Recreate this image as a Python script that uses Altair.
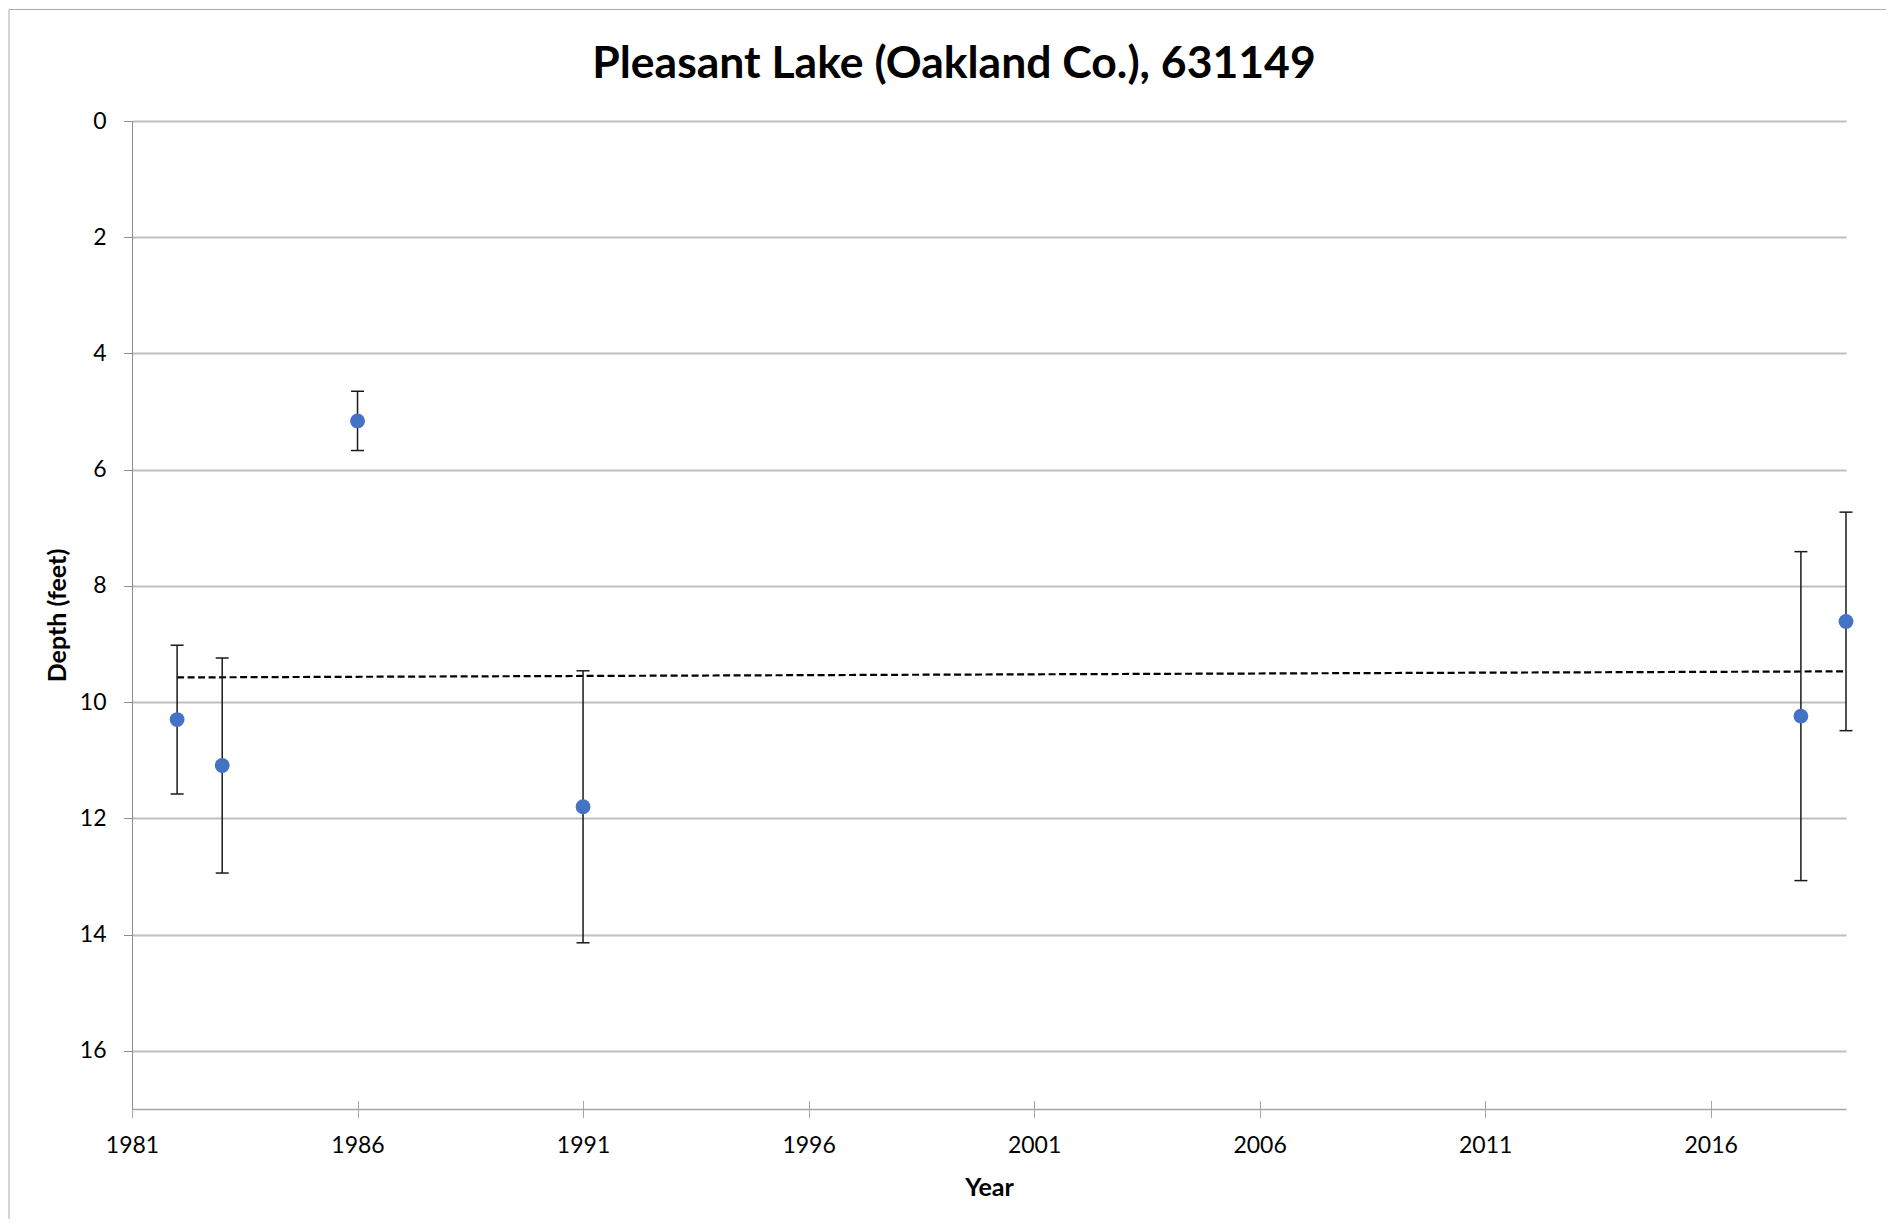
import altair as alt
import pandas as pd

# ---- data ----
years = [1982, 1983, 1986, 1991, 2018, 2019]
depth = [10.30, 11.09, 5.16, 11.80, 10.24, 8.61]
err = [1.28, 1.85, 0.51, 2.34, 2.83, 1.88]
x_ticks = [1981, 1986, 1991, 1996, 2001, 2006, 2011, 2016]
y_ticks = [0, 2, 4, 6, 8, 10, 12, 14, 16]
title_text = "Pleasant Lake (Oakland Co.), 631149"

df = pd.DataFrame({"year": years, "depth": depth, "err": err})
df["lo"] = df["depth"] - df["err"]
df["hi"] = df["depth"] + df["err"]

W, H = 1714, 988
FONT = "Lato"
AX = "#A6A6A6"

xscale = alt.Scale(domain=[1981, 2019], nice=False, zero=False)
yscale = alt.Scale(domain=[0, 17], nice=False, zero=False, reverse=True)

main_x_axis = alt.Axis(
    orient="bottom",
    values=x_ticks, format="d", domainColor=AX, domainWidth=1.5,
    tickColor=AX, tickSize=8.5, tickWidth=1,
    labelFont=FONT, labelFontSize=23, labelColor="black", labelPadding=17,
    labelFlush=False, labelOverlap=False,
    title="Year", titleFont=FONT, titleFontSize=25, titleFontWeight="bold",
    titleColor="black", titlePadding=18, grid=False,
)
cross_axis = alt.Axis(
    orient="bottom",
    values=x_ticks, offset=-8.5, domain=False, tickColor=AX, tickSize=8.5,
    tickWidth=1, labels=False, title="", grid=False,
)
y_axis = alt.Axis(
    orient="left",
    values=y_ticks, domainColor="#8C8C8C", domainWidth=1,
    tickColor="#8C8C8C", tickSize=8.5, tickWidth=1,
    labelFont=FONT, labelFontSize=23, labelColor="black", labelPadding=17.5,
    grid=True, gridColor="#C0C0C0", gridWidth=2,
    title="Depth (feet)", titleFont=FONT, titleFontSize=25,
    titleFontWeight="bold", titleColor="black", titlePadding=9,
)

base = alt.Chart(df)

border = alt.Chart(alt.Data(values=[{"k": 1}])).mark_rect(
    filled=False, stroke="#ABABAB", strokeWidth=1
).encode(
    x=alt.value(-123), x2=alt.value(W + 300),
    y=alt.value(-111.5), y2=alt.value(H + 400),
)

trend = base.transform_regression("year", "depth").mark_line(
    color="black", strokeDash=[7, 3.5], strokeWidth=2.2
).encode(
    x=alt.X("year:Q", scale=xscale, axis=None),
    y=alt.Y("depth:Q", scale=yscale, axis=None),
)

rules = base.mark_rule(color="#1a1a1a", strokeWidth=1.5).encode(
    x=alt.X("year:Q", scale=xscale, axis=cross_axis),
    y=alt.Y("lo:Q", scale=yscale, axis=None),
    y2="hi:Q",
)

caps_lo = base.mark_tick(orient="horizontal", size=13, thickness=1.5, color="#1a1a1a", opacity=1).encode(
    x=alt.X("year:Q", scale=xscale, axis=None),
    y=alt.Y("lo:Q", scale=yscale, axis=None),
)
caps_hi = base.mark_tick(orient="horizontal", size=13, thickness=1.5, color="#1a1a1a", opacity=1).encode(
    x=alt.X("year:Q", scale=xscale, axis=None),
    y=alt.Y("hi:Q", scale=yscale, axis=None),
)

points = base.mark_circle(size=220, color="#4472C4", opacity=1).encode(
    x=alt.X("year:Q", scale=xscale, axis=main_x_axis),
    y=alt.Y("depth:Q", scale=yscale, axis=y_axis),
)

chart = alt.layer(border, trend, rules, caps_lo, caps_hi, points).resolve_axis(
    x="independent", y="independent"
).properties(
    width=W, height=H,
    autosize=alt.AutoSizeParams(type="none"),
    padding={"left": 124, "top": 113, "right": 40, "bottom": 110},
    title=alt.TitleParams(
        title_text, font=FONT, fontSize=44.5, fontWeight="bold", color="black",
        anchor="middle", frame="group", dx=-35, dy=82,
    ),
).configure_view(stroke=None)

chart.save("out.html", embed_options={"renderer": "svg", "actions": False})
